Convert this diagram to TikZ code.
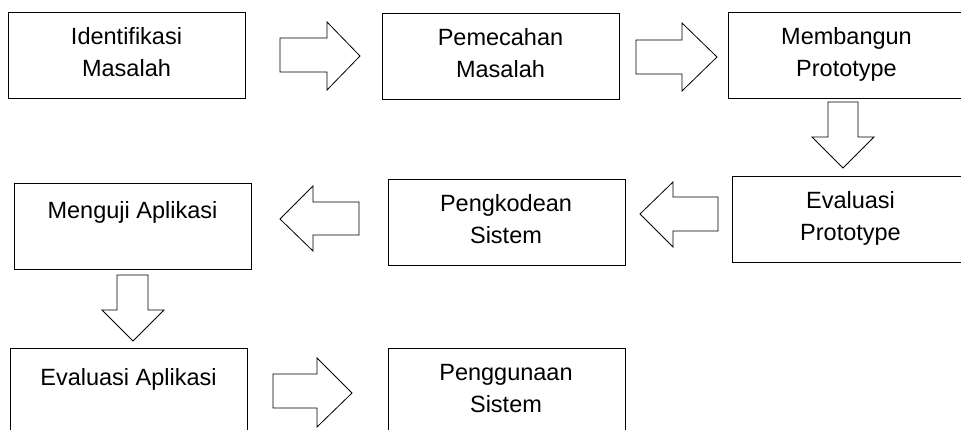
\documentclass[tikz,border=0pt]{standalone}
\usepackage{fontspec}
\setmainfont{Liberation Sans}
\begin{document}
\begin{tikzpicture}[x=1pt,y=-1pt,line width=0.8pt,
  box/.style={draw,anchor=north west,inner sep=0pt,minimum width=237pt,minimum height=86pt},
  lbl/.style={anchor=base,align=center,inner sep=0pt,font=\fontsize{23.5}{31.5}\selectfont}]
  \useasboundingbox (0,0) rectangle (961,430);
  \clip (0,0) rectangle (961,430);

  % baris pertama
  \node[box] (b1) at (8,12) {};
  \node[box] (b2) at (382,13) {};
  \node[box] (b3) at (728,12) {};
  \node[lbl] (t1) at (126.5,76.5) {Identifikasi\\Masalah};
  \node[lbl] (t2) at (500.5,77.5) {Pemecahan\\Masalah};
  \node[lbl] (t3) at (846.5,76.5) {Membangun\\Prototype};

  % baris kedua
  \node[box] (b4) at (732,176) {};
  \node[box] (b5) at (388,179) {};
  \node[box] (b6) at (14,183) {};
  \node[lbl] (t4) at (850.5,240.5) {Evaluasi\\Prototype};
  \node[lbl] (t5) at (506,243.5) {Pengkodean\\Sistem};
  \node[lbl] (t6) at (132.5,219) {Menguji Aplikasi};

  % baris ketiga
  \node[box] (b7) at (10,348) {};
  \node[box] (b8) at (388,348) {};
  \node[lbl] (t7) at (128.5,385) {Evaluasi Aplikasi};
  \node[lbl] (t8) at (506,412) {Penggunaan\\Sistem};

  % panah blok
  \draw (280,38) -- (327,38) -- (327,22) -- (360,56) -- (327,90) -- (327,72) -- (280,72) -- cycle;
  \draw (636,40) -- (682,40) -- (682,23) -- (717,57) -- (682,91) -- (682,74) -- (636,74) -- cycle;
  \draw (828,102) -- (858,102) -- (858,137) -- (874,137) -- (843,168) -- (812,137) -- (828,137) -- cycle;
  \draw (718,197) -- (673,197) -- (673,182) -- (640,214) -- (673,247) -- (673,231) -- (718,231) -- cycle;
  \draw (359,202) -- (313,202) -- (313,186) -- (280,219) -- (313,251) -- (313,235) -- (359,235) -- cycle;
  \draw (117,275) -- (148,275) -- (148,310) -- (164,310) -- (133,341) -- (102,310) -- (117,310) -- cycle;
  \draw (273,374) -- (317,374) -- (317,358) -- (352,393) -- (317,427) -- (317,408) -- (273,408) -- cycle;
\end{tikzpicture}
\end{document}
